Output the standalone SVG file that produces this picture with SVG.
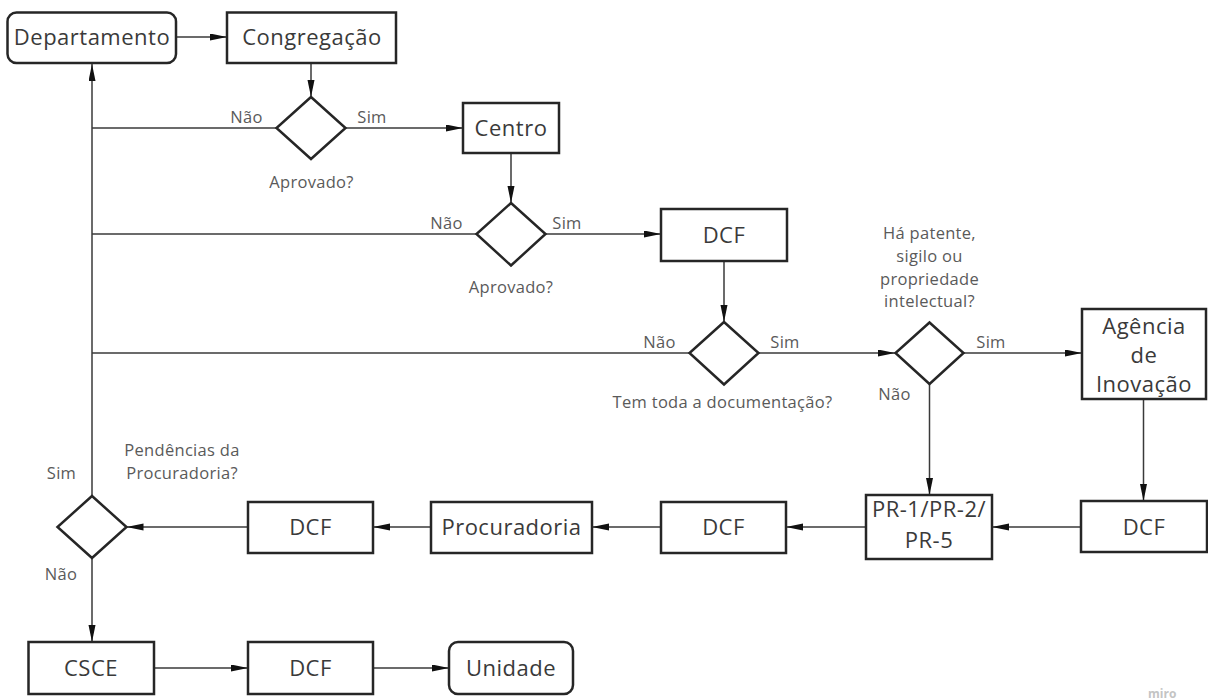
<svg xmlns="http://www.w3.org/2000/svg" width="1208" height="700" viewBox="0 0 1208 700">
<style>
.box{fill:#fff;stroke:#262626;stroke-width:2.5}
.dia{fill:#fff;stroke:#262626;stroke-width:2.5}
.t{font-family:"Open Sans","Liberation Sans",sans-serif;font-size:22px;fill:#3a3a3a;text-anchor:middle;letter-spacing:0.5px}
.l{font-family:"Open Sans","Liberation Sans",sans-serif;font-size:16.5px;fill:#5a5a5a;letter-spacing:0.3px}
.c{text-anchor:middle}
.con path{fill:none;stroke:#3a3a3a;stroke-width:1.5}
.miro{font-family:"Open Sans","Liberation Sans",sans-serif;font-size:12px;fill:#c4c4c4;font-weight:bold}
</style>
<defs>
<marker id="ah" markerUnits="userSpaceOnUse" markerWidth="18" markerHeight="8" refX="17" refY="3.5" orient="auto">
<path d="M0,0 L17,3.5 L0,7 z" fill="#111"/>
</marker>
</defs>
<rect width="1208" height="700" fill="#fff"/>
<g class="con">
<path d="M176,37 H227" marker-end="url(#ah)"/>
<path d="M311,63 V97" marker-end="url(#ah)"/>
<path d="M345.5,128 H463" marker-end="url(#ah)"/>
<path d="M276.5,128 H92"/>
<path d="M511,153 V203" marker-end="url(#ah)"/>
<path d="M545.5,234 H661" marker-end="url(#ah)"/>
<path d="M476.5,234 H92"/>
<path d="M724,261 V322" marker-end="url(#ah)"/>
<path d="M758.5,353 H895" marker-end="url(#ah)"/>
<path d="M689.5,353 H92"/>
<path d="M963.5,353 H1082" marker-end="url(#ah)"/>
<path d="M929.5,384 V495" marker-end="url(#ah)"/>
<path d="M1143.5,399 V501" marker-end="url(#ah)"/>
<path d="M1081,527 H992" marker-end="url(#ah)"/>
<path d="M866,527 H786" marker-end="url(#ah)"/>
<path d="M661,527 H592" marker-end="url(#ah)"/>
<path d="M431,527 H373" marker-end="url(#ah)"/>
<path d="M248,527 H126.5" marker-end="url(#ah)"/>
<path d="M92,496 V64" marker-end="url(#ah)"/>
<path d="M92,558 V642" marker-end="url(#ah)"/>
<path d="M155,668 H248" marker-end="url(#ah)"/>
<path d="M374,668 H449" marker-end="url(#ah)"/>
</g>
<g id="departamento"><rect class="box" x="7.5" y="12.5" width="168.5" height="50.5" rx="9"/><text class="t" x="92" y="45">Departamento</text></g>
<g id="congregacao"><rect class="box" x="227" y="12.5" width="169" height="50.5"/><text class="t" x="312" y="45">Congregação</text></g>
<g id="d1"><polygon class="dia" points="311,97 345.5,128 311,159 276.5,128"/>
<text class="l c" x="246.5" y="123">Não</text><text class="l c" x="372" y="123">Sim</text><text class="l c" x="311.5" y="188">Aprovado?</text></g>
<g id="centro"><rect class="box" x="463" y="103" width="96" height="50"/><text class="t" x="511" y="136">Centro</text></g>
<g id="d2"><polygon class="dia" points="511,203 545.5,234 511,265.5 476.5,234"/>
<text class="l c" x="446.5" y="229">Não</text><text class="l c" x="567" y="229">Sim</text><text class="l c" x="511" y="293">Aprovado?</text></g>
<g id="dcf1"><rect class="box" x="661" y="209" width="126" height="52"/><text class="t" x="724" y="243">DCF</text></g>
<g id="d3"><polygon class="dia" points="724,322 758.5,353 724,384.5 689.5,353"/>
<text class="l c" x="659.5" y="348">Não</text><text class="l c" x="785" y="348">Sim</text><text class="l c" x="722.5" y="408">Tem toda a documentação?</text></g>
<g id="d4"><polygon class="dia" points="929.5,322.5 963.5,353 929.5,384 895.5,353"/>
<text class="l c" x="991" y="348">Sim</text><text class="l c" x="894.5" y="400">Não</text>
<text class="l c" x="929.5" y="239">Há patente,</text><text class="l c" x="929.5" y="262">sigilo ou</text><text class="l c" x="929.5" y="285">propriedade</text><text class="l c" x="929.5" y="307">intelectual?</text></g>
<g id="agencia"><rect class="box" x="1082" y="309" width="124" height="90"/>
<text class="t" x="1144" y="334">Agência</text><text class="t" x="1144" y="363">de</text><text class="t" x="1144" y="392">Inovação</text></g>
<g id="dcf-r"><rect class="box" x="1081" y="501" width="126" height="51"/><text class="t" x="1144" y="535">DCF</text></g>
<g id="pr"><rect class="box" x="866" y="495" width="126" height="64"/>
<text class="t" x="929" y="517">PR-1/PR-2/</text><text class="t" x="929" y="548">PR-5</text></g>
<g id="dcf-m"><rect class="box" x="661" y="502" width="125" height="51"/><text class="t" x="723.5" y="535">DCF</text></g>
<g id="procuradoria"><rect class="box" x="431" y="502" width="161" height="51"/><text class="t" x="511.5" y="535">Procuradoria</text></g>
<g id="dcf-l"><rect class="box" x="248" y="502" width="125" height="51"/><text class="t" x="310.5" y="535">DCF</text></g>
<g id="d5"><polygon class="dia" points="92,496 126.5,527 92,558 57.5,527"/>
<text class="l c" x="61.5" y="479">Sim</text><text class="l c" x="61" y="580">Não</text>
<text class="l c" x="182" y="456">Pendências da</text><text class="l c" x="182" y="479">Procuradoria?</text></g>
<g id="csce"><rect class="box" x="28.5" y="642" width="125.5" height="52"/><text class="t" x="91" y="676">CSCE</text></g>
<g id="dcf-b"><rect class="box" x="248" y="642" width="125" height="52"/><text class="t" x="310.5" y="676">DCF</text></g>
<g id="unidade"><rect class="box" x="449" y="642" width="124" height="52" rx="9"/><text class="t" x="511" y="676">Unidade</text></g>
<text class="miro" x="1148" y="698">miro</text>
</svg>
